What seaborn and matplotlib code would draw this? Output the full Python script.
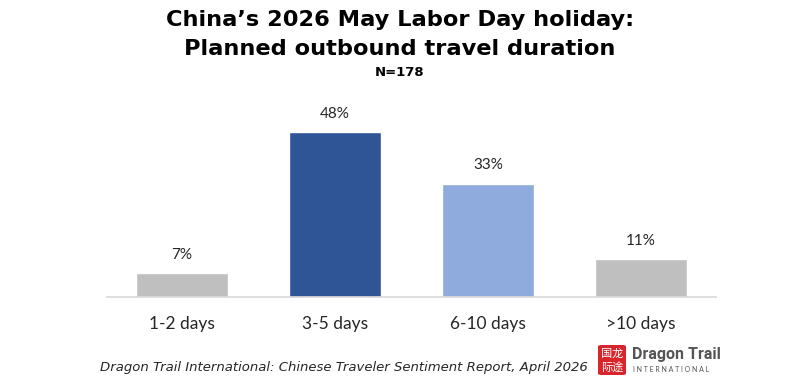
import matplotlib
matplotlib.use("Agg")
import matplotlib.pyplot as plt
import seaborn as sns
import pandas as pd
from matplotlib.patches import FancyBboxPatch

categories = ["1-2 days", "3-5 days", "6-10 days", ">10 days"]
values = [7, 48, 33, 11]
colors = ["#BFBFBF", "#2F5597", "#8FAADC", "#BFBFBF"]

title_line1 = "China\u2019s 2026 May Labor Day holiday:"
title_line2 = "Planned outbound travel duration"
subtitle = "N=178"
source = "Dragon Trail International: Chinese Traveler Sentiment Report, April 2026"

sns.set_theme(style="white")
plt.rcParams['font.family'] = ['Lato', 'DejaVu Sans']

df = pd.DataFrame({"cat": categories, "val": values})

fig = plt.figure(figsize=(8, 3.84), dpi=100)
ax = fig.add_axes([107/800, 1 - 297/384, 609/800, 187/384])
sns.barplot(data=df, x="cat", y="val", hue="cat", palette=colors, legend=False,
            width=0.6, ax=ax, saturation=1)
ax.set_xlim(-0.49, 3.49)
ax.set_ylim(0, 54.4)
ax.set_xlabel("")
ax.set_ylabel("")
ax.set_yticks([])
for s in ["top", "right", "left"]:
    ax.spines[s].set_visible(False)
ax.spines["bottom"].set_color("#D9D9D9")
ax.spines["bottom"].set_linewidth(1.2)
ax.tick_params(axis="x", length=0, pad=14, labelsize=12.5, labelcolor="#262626")
for cont in ax.containers:
    ax.bar_label(cont, labels=[f"{v:.0f}%" for v in cont.datavalues], padding=8,
                 fontsize=11, color="#262626")

fig.text(0.5, 1 - 20/384, title_line1, ha="center", va="center", fontsize=16.2,
         fontweight="bold", color="black", family=["DejaVu Sans"])
fig.text(0.5, 1 - 49/384, title_line2, ha="center", va="center", fontsize=16.2,
         fontweight="bold", color="black", family=["DejaVu Sans"])
fig.text(0.5, 1 - 72/384, subtitle, ha="center", va="center", fontsize=9.5,
         fontweight="bold", color="black", family=["DejaVu Sans"])
fig.text(100/800, 1 - 367/384, source, ha="left", va="center", fontsize=9.55,
         style="italic", color="#262626", family=["DejaVu Sans"])

# logo
seal = FancyBboxPatch((598/800, 1 - 375/384), 28/800, 30/384,
                      boxstyle="round,pad=0,rounding_size=0.004",
                      transform=fig.transFigure, facecolor="#D7252B", edgecolor="none")
fig.patches.append(seal)
fig.text(612/800, 1 - 354/384, "\u56fd\u9f99", ha="center", va="center", fontsize=8,
         color="white", family=["Noto Sans CJK SC", "DejaVu Sans"])
fig.text(612/800, 1 - 367/384, "\u9645\u9014", ha="center", va="center", fontsize=8,
         color="white", family=["Noto Sans CJK SC", "DejaVu Sans"])
fig.text(632/800, 1 - 355/384, "Dragon Trail", ha="left", va="center", fontsize=11.5,
         fontweight="bold", color="#555555", family=["Roboto", "DejaVu Sans"])
fig.text(633/800, 1 - 370/384, "I N T E R N A T I O N A L", ha="left", va="center",
         fontsize=5, color="#555555")

fig.savefig("out.png", dpi=100)
